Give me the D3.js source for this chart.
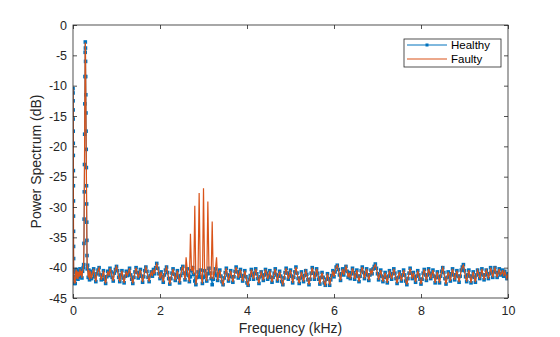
<!DOCTYPE html>
<html>
<head>
<meta charset="utf-8">
<script src="https://cdn.jsdelivr.net/npm/d3@7"></script>
<style>
  html, body { margin: 0; padding: 0; background: #fff; }
  svg { display: block; font-family: "Liberation Sans", Arial, Helvetica, sans-serif; }
</style>
</head>
<body>
<svg id="chart" width="560" height="337"></svg>
<script>
// ---------------- DATA ----------------
const seriesNames = ["Healthy", "Faulty"];
const xTicks = [0, 2, 4, 6, 8, 10];
const yTicks = [0, -5, -10, -15, -20, -25, -30, -35, -40, -45];

// Low-frequency region (kHz), densely sampled around the two tones
const lowFreq = [0, 0.001, 0.002, 0.003, 0.004, 0.005, 0.006, 0.007, 0.008, 0.009, 0.010, 0.011, 0.012, 0.013, 0.014, 0.016,
  0.02, 0.03, 0.04, 0.05, 0.06, 0.075, 0.09, 0.1, 0.115, 0.13, 0.145, 0.16, 0.175, 0.19, 0.205, 0.22, 0.235, 0.245,
  0.252, 0.256, 0.26, 0.264, 0.268, 0.272, 0.276, 0.28, 0.283, 0.286, 0.289, 0.292, 0.295, 0.298, 0.301, 0.304, 0.307,
  0.31, 0.313, 0.316, 0.319, 0.322, 0.326, 0.335, 0.35, 0.365, 0.38];
const lowHealthy = [-10.5, -11.2, -12.5, -14, -15.5, -17.5, -19.5, -21.5, -24, -26.5, -29, -31.5, -34, -36.5, -38.5, -40.5,
  -41.8, -42.6, -41.5, -42.6, -40.8, -40.3, -41.8, -40.6, -41.9, -40.7, -41.5, -40.2, -41.3, -40.5, -41.7, -40.6, -40.0, -39.5,
  -36, -32, -27.5, -23, -18, -13, -8.5, -4.5, -2.8, -3.8, -6, -8.5, -11.5, -14.5, -17.5, -20.5, -23.5,
  -26.5, -29.5, -32.5, -35.5, -38, -40.2, -39.6, -41.6, -40.4, -42.0];
const lowFaulty = [-10.5, -11.2, -12.5, -14, -15.5, -17.5, -19.5, -21.5, -24, -26.5, -29, -31.5, -34, -36.5, -38.5, -40.5,
  -41.8, -42.6, -41.5, -42.6, -40.8, -40.3, -41.8, -40.6, -41.9, -40.7, -41.5, -40.2, -41.3, -40.5, -41.7, -40.6, -40.0, -39.5,
  -36, -32, -27.5, -23, -18, -13, -8.5, -4.5, -2.9, -3.8, -6, -8.5, -11.5, -14.5, -17.5, -20.5, -23.5,
  -26.5, -29.5, -32.5, -35.5, -38, -40.2, -39.6, -41.6, -40.4, -42.0];

// Uniform grid from 0.4 kHz to 10 kHz, step 0.025 kHz
const gridStart = 0.4, gridStep = 0.025;
const gridHealthy = [
  -40.6,-41.8,-40.9,-40.2,-41.5,-42.3,-41.0,-40.4,-40.0,-41.2,-42.0,-41.3,-40.5,-41.9,-42.6,-41.5,-40.6,-41.3,-40.1,-40.7,
  -41.6,-42.2,-40.9,-40.3,-39.8,-40.5,-41.6,-42.3,-41.2,-40.5,-41.7,-42.5,-41.4,-40.6,-41.3,-40.8,-40.1,-41.2,-41.9,-42.6,
  -41.6,-40.7,-40.0,-40.8,-41.7,-41.0,-40.3,-41.4,-42.4,-41.5,-40.5,-39.9,-40.6,-41.6,-42.3,-41.3,-40.7,-41.4,-40.3,-41.0,
  -40.0,-39.3,-40.1,-41.0,-41.8,-40.7,-41.5,-42.4,-41.2,-40.4,-39.9,-40.8,-41.8,-42.7,-41.8,-40.9,-40.2,-41.1,-42.1,-41.3,
  -40.5,-41.6,-42.5,-41.3,-40.2,-39.8,-40.9,-42.0,-41.0,-40.2,-41.3,-42.3,-41.5,-40.5,-40.0,-41.1,-42.2,-42.8,-41.6,-40.7,
  -41.5,-40.4,-41.6,-42.6,-41.6,-40.5,-41.4,-42.2,-41.0,-40.1,-40.9,-41.8,-42.8,-41.9,-40.9,-40.2,-41.3,-42.1,-41.0,-40.4,
  -41.4,-42.3,-42.8,-41.7,-40.8,-40.1,-41.2,-42.2,-41.4,-40.5,-41.5,-42.4,-41.5,-40.6,-39.9,-40.7,-41.7,-41.0,-40.3,-41.4,
  -42.2,-41.3,-40.5,-41.5,-42.5,-42.9,-41.9,-41.3,-40.3,-41.1,-41.9,-40.9,-40.2,-41.0,-41.8,-42.6,-41.5,-40.7,-41.3,-42.1,
  -41.2,-40.3,-40.9,-41.9,-41.3,-40.5,-41.6,-42.4,-41.6,-40.9,-40.2,-41.2,-42.2,-41.4,-40.6,-41.4,-42.3,-42.8,-41.7,-40.8,
  -40.1,-40.9,-41.9,-41.2,-40.4,-41.4,-42.5,-41.6,-40.7,-39.9,-40.9,-41.8,-42.6,-41.7,-40.7,-41.5,-42.3,-41.3,-40.5,-41.1,
  -42.0,-42.8,-41.9,-40.9,-40.0,-40.9,-41.9,-41.2,-40.2,-40.9,-41.9,-42.7,-41.6,-40.8,-41.6,-42.5,-42.9,-41.9,-41.0,-41.8,
  -42.9,-42.0,-41.3,-40.5,-41.5,-40.7,-39.9,-39.6,-40.3,-41.2,-42.1,-41.0,-40.2,-41.2,-40.4,-39.8,-40.6,-41.6,-40.8,-41.8,
  -41.0,-40.1,-40.8,-41.9,-41.2,-40.4,-41.4,-42.3,-41.4,-40.5,-39.9,-40.8,-41.8,-41.0,-40.2,-41.2,-42.1,-41.2,-40.4,-41.0,
  -40.2,-39.8,-39.4,-40.1,-41.0,-42.0,-41.2,-40.4,-41.4,-42.3,-41.6,-40.8,-41.6,-42.5,-41.4,-40.5,-41.2,-41.9,-41.0,-40.2,
  -40.9,-41.8,-42.6,-41.6,-40.7,-41.4,-42.2,-41.2,-40.4,-41.2,-42.2,-42.8,-41.8,-40.9,-40.1,-40.9,-41.8,-40.8,-41.6,-42.4,
  -41.4,-40.5,-41.2,-41.9,-42.7,-41.9,-40.9,-40.3,-41.2,-42.1,-41.2,-40.2,-40.9,-41.8,-41.0,-40.4,-41.4,-42.5,-41.6,-40.7,
  -41.6,-42.5,-41.4,-40.6,-40.0,-40.8,-41.8,-42.7,-41.6,-40.7,-41.4,-42.2,-41.0,-40.2,-41.2,-42.0,-41.2,-40.5,-41.4,-42.4,
  -41.4,-40.4,-39.9,-39.5,-40.5,-41.5,-42.3,-41.2,-40.4,-41.4,-42.5,-41.4,-40.7,-41.6,-42.4,-41.2,-40.4,-41.0,-41.8,-41.0,
  -40.2,-41.2,-42.0,-41.2,-40.4,-41.0,-41.8,-41.0,-40.0,-40.8,-41.6,-40.6,-40.0,-40.8,-41.6,-40.8,-40.2,-41.2,-41.0,-40.4,
  -41.4,-40.6,-41.2,-41.8,-41.0
];
const gridFaulty = [
  -40.6,-41.8,-40.9,-40.2,-41.5,-42.3,-41.0,-40.4,-40.0,-41.2,-42.0,-41.3,-40.5,-41.9,-42.6,-41.5,-40.6,-41.3,-40.1,-40.7,
  -41.6,-42.2,-40.9,-40.3,-39.8,-40.5,-41.6,-42.3,-41.2,-40.5,-41.7,-42.5,-41.4,-40.6,-41.3,-40.8,-40.1,-41.2,-41.9,-42.6,
  -41.6,-40.7,-40.0,-40.8,-41.7,-41.0,-40.3,-41.4,-42.4,-41.5,-40.5,-39.9,-40.6,-41.6,-42.3,-41.3,-40.7,-41.4,-40.3,-41.0,
  -40.0,-39.4,-40.1,-41.0,-41.8,-40.7,-41.5,-42.4,-41.2,-40.4,-39.9,-40.8,-41.8,-42.7,-41.8,-40.9,-40.2,-41.1,-42.1,-41.3,
  -40.5,-41.6,-42.5,-41.3,-40.2,-39.8,-40.9,-42.0,-38.3,-40.2,-41.3,-42.3,-34.4,-40.5,-40.0,-41.1,-29.8,-42.8,-41.6,-40.7,
  -27.7,-40.4,-41.6,-42.6,-26.9,-40.5,-41.4,-42.2,-29.1,-40.1,-40.9,-41.8,-32.4,-41.9,-40.9,-40.2,-38.3,-42.1,-41.0,-40.4,
  -41.4,-42.3,-42.8,-41.7,-40.8,-40.1,-41.2,-42.2,-41.4,-40.5,-41.5,-42.4,-41.5,-40.6,-39.9,-40.7,-41.7,-41.0,-40.3,-41.4,
  -42.2,-41.3,-40.5,-41.5,-42.5,-42.9,-41.9,-41.3,-40.3,-41.1,-41.9,-40.9,-40.2,-41.0,-41.8,-42.6,-41.5,-40.7,-41.3,-42.1,
  -41.2,-40.3,-40.9,-41.9,-41.3,-40.5,-41.6,-42.4,-41.6,-40.9,-40.2,-41.2,-42.2,-41.4,-40.6,-41.4,-42.3,-42.8,-41.7,-40.8,
  -40.1,-40.9,-41.9,-41.2,-40.4,-41.4,-42.5,-41.6,-40.7,-39.9,-40.9,-41.8,-42.6,-41.7,-40.7,-41.5,-42.3,-41.3,-40.5,-41.1,
  -42.0,-42.8,-41.9,-40.9,-40.0,-40.9,-41.9,-41.2,-40.2,-40.9,-41.9,-42.7,-41.6,-40.8,-41.6,-42.5,-42.9,-41.9,-41.0,-41.8,
  -42.9,-42.0,-41.3,-40.5,-41.5,-40.7,-39.9,-39.6,-40.3,-41.2,-42.1,-41.0,-40.2,-41.2,-40.4,-39.8,-40.6,-41.6,-40.8,-41.8,
  -41.0,-40.1,-40.8,-41.9,-41.2,-40.4,-41.4,-42.3,-41.4,-40.5,-39.9,-40.8,-41.8,-41.0,-40.2,-41.2,-42.1,-41.2,-40.4,-41.0,
  -40.2,-39.8,-39.5,-40.1,-41.0,-42.0,-41.2,-40.4,-41.4,-42.3,-41.6,-40.8,-41.6,-42.5,-41.4,-40.5,-41.2,-41.9,-41.0,-40.2,
  -40.9,-41.8,-42.6,-41.6,-40.7,-41.4,-42.2,-41.2,-40.4,-41.2,-42.2,-42.8,-41.8,-40.9,-40.1,-40.9,-41.8,-40.8,-41.6,-42.4,
  -41.4,-40.5,-41.2,-41.9,-42.7,-41.9,-40.9,-40.3,-41.2,-42.1,-41.2,-40.2,-40.9,-41.8,-41.0,-40.4,-41.4,-42.5,-41.6,-40.7,
  -41.6,-42.5,-41.4,-40.6,-40.0,-40.8,-41.8,-42.7,-41.6,-40.7,-41.4,-42.2,-41.0,-40.2,-41.2,-42.0,-41.2,-40.5,-41.4,-42.4,
  -41.4,-40.4,-39.9,-39.6,-40.5,-41.5,-42.3,-41.2,-40.4,-41.4,-42.5,-41.4,-40.7,-41.6,-42.4,-41.2,-40.4,-41.0,-41.8,-41.0,
  -40.2,-41.2,-42.0,-41.2,-40.4,-41.0,-41.8,-41.0,-40.0,-40.8,-41.6,-40.6,-40.0,-40.8,-41.6,-40.8,-40.2,-41.2,-41.0,-40.4,
  -41.4,-40.6,-41.2,-41.8,-41.0
];

// ---------------- BUILD ----------------
function build(lowVals, gridVals) {
  const pts = lowFreq.map((f, i) => ({ f, v: lowVals[i] }));
  gridVals.forEach((v, i) => pts.push({ f: gridStart + i * gridStep, v }));
  return pts;
}
const healthy = build(lowHealthy, gridHealthy);
const faulty = build(lowFaulty, gridFaulty);

const W = 560, H = 337;
const m = { left: 73, right: 52, top: 25, bottom: 39 };
const pw = W - m.left - m.right, ph = H - m.top - m.bottom;

const svg = d3.select("#chart");
const g = svg.append("g").attr("transform", `translate(${m.left},${m.top})`);

const x = d3.scaleLinear().domain([0, 10]).range([0, pw]);
const y = d3.scaleLinear().domain([-45, 0]).range([ph, 0]);

const axisColor = "#262626";
const tickFont = 12.5;

svg.append("defs").append("clipPath").attr("id", "clip")
  .append("rect").attr("x", 0).attr("y", 0).attr("width", pw).attr("height", ph);

const line = d3.line().x(d => x(d.f)).y(d => y(d.v));
const plot = g.append("g").attr("clip-path", "url(#clip)");

const blue = "#0072BD", orange = "#D95319";
plot.append("path").datum(healthy).attr("d", line)
  .attr("fill", "none").attr("stroke", blue).attr("stroke-width", 1);
const ms = 3.6;
plot.append("g").selectAll("rect").data(healthy).join("rect")
  .attr("x", d => x(d.f) - ms / 2).attr("y", d => y(d.v) - ms / 2)
  .attr("width", ms).attr("height", ms).attr("fill", blue);
plot.append("path").datum(faulty).attr("d", line)
  .attr("fill", "none").attr("stroke", orange).attr("stroke-width", 1.2);

function styleAxis(sel) {
  sel.select(".domain").remove();
  sel.selectAll(".tick line").attr("stroke", axisColor).attr("stroke-width", 0.8);
  sel.selectAll("text").attr("fill", axisColor).style("font-size", tickFont + "px")
    .style("font-family", "'Liberation Sans', Arial, sans-serif");
}
g.append("g").attr("transform", `translate(0,${ph})`)
  .call(d3.axisBottom(x).tickValues(xTicks).tickSizeInner(-4).tickSizeOuter(0).tickPadding(8).tickFormat(d3.format("d")))
  .call(styleAxis);
g.append("g")
  .call(d3.axisTop(x).tickValues(xTicks).tickSizeInner(-4).tickSizeOuter(0).tickFormat(""))
  .call(styleAxis);
g.append("g")
  .call(d3.axisLeft(y).tickValues(yTicks).tickSizeInner(-4).tickSizeOuter(0).tickPadding(6).tickFormat(d => String(d)))
  .call(styleAxis);
g.append("g").attr("transform", `translate(${pw},0)`)
  .call(d3.axisRight(y).tickValues(yTicks).tickSizeInner(-4).tickSizeOuter(0).tickFormat(""))
  .call(styleAxis);

g.append("rect").attr("x", 0).attr("y", 0).attr("width", pw).attr("height", ph)
  .attr("fill", "none").attr("stroke", axisColor).attr("stroke-width", 0.8);

svg.append("text").attr("x", m.left + pw / 2).attr("y", 333)
  .attr("text-anchor", "middle").attr("fill", axisColor).style("font-size", "14px")
  .text("Frequency (kHz)");
svg.append("text").attr("transform", `translate(41,${m.top + ph / 2}) rotate(-90)`)
  .attr("text-anchor", "middle").attr("fill", axisColor).style("font-size", "14px")
  .text("Power Spectrum (dB)");

const lg = svg.append("g").attr("transform", "translate(404,39)");
lg.append("rect").attr("x", 0).attr("y", 0).attr("width", 97).attr("height", 28)
  .attr("fill", "#fff").attr("stroke", axisColor).attr("stroke-width", 0.8);
const legendColors = [blue, orange];
seriesNames.forEach((name, i) => {
  const yy = 6 + i * 14;
  lg.append("line").attr("x1", 3).attr("x2", 43).attr("y1", yy).attr("y2", yy)
    .attr("stroke", legendColors[i]).attr("stroke-width", i === 0 ? 1 : 1.2);
  if (i === 0) {
    lg.append("rect").attr("x", 23 - 1.5).attr("y", yy - 1.5).attr("width", 3).attr("height", 3).attr("fill", blue);
  }
  lg.append("text").attr("x", 47).attr("y", yy + 4).attr("fill", "#000")
    .style("font-size", "11.5px").text(name);
});
</script>
</body>
</html>
